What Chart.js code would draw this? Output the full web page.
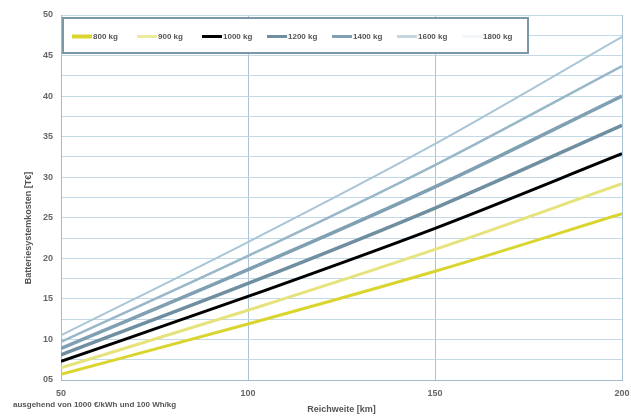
<!DOCTYPE html>
<html lang="de">
<head>
  <meta charset="UTF-8">
  <title>Batteriesystemkosten nach Reichweite</title>
  <script src="https://cdn.jsdelivr.net/npm/chart.js@4.4.0/dist/chart.umd.min.js"></script>
  <style>
    html, body { margin: 0; padding: 0; background: #fff; }
    #wrap { position: relative; width: 631px; height: 419px; }
  </style>
</head>
<body>
  <div id="wrap"><canvas id="chart"></canvas></div>
  <script>
    // Data
    const reach = [50, 100, 150, 200];
    const massLabels = ['800 kg', '900 kg', '1000 kg', '1200 kg', '1400 kg', '1600 kg', '1800 kg'];
    const cost800 = [5.7, 11.9, 18.4, 25.5];
    const cost900 = [6.5, 13.6, 21.1, 29.2];
    const cost1000 = [7.3, 15.3, 23.7, 32.9];
    const cost1200 = [8.1, 16.9, 26.2, 36.4];
    const cost1400 = [8.9, 18.6, 28.8, 40.0];
    const cost1600 = [9.7, 20.3, 31.5, 43.7];
    const cost1800 = [10.5, 22.0, 34.1, 47.3];
    const yTicks = [5, 10, 15, 20, 25, 30, 35, 40, 45, 50];

    // Styles
    const lineColors = ['#d9d52e', '#e6e27c', '#000000', '#6f8fa1', '#7f9fb2', '#98b7c8', '#a9c6d7'];
    const legendColors = ['#d9d52e', '#ecea9c', '#000000', '#6f8fa1', '#7f9fb2', '#c4d6e0', '#f4f7f9'];
    const lineWidths = [3, 3, 3, 3.5, 3.5, 2.5, 2];
    const allSeries = [cost800, cost900, cost1000, cost1200, cost1400, cost1600, cost1800];

    const FONT = '"Liberation Sans", Arial, sans-serif';

    const datasets = allSeries.map((vals, i) => ({
      label: massLabels[i],
      data: vals.map((v, j) => ({ x: reach[j], y: v })),
      borderColor: lineColors[i],
      backgroundColor: lineColors[i],
      borderWidth: lineWidths[i],
      pointRadius: 0,
      cubicInterpolationMode: 'monotone',
      fill: false,
      order: i === 2 ? 0 : 1
    }));

    // Legend drawn inside the plot area, plus free texts
    const extras = {
      id: 'extras',
      afterDraw(chart) {
        const ctx = chart.ctx;
        const area = chart.chartArea;
        ctx.save();
        // legend box
        const bx = area.left + 2, by = 18, bw = 465, bh = 35;
        ctx.fillStyle = '#ffffff';
        ctx.fillRect(bx, by, bw, bh);
        ctx.strokeStyle = '#7b97a8';
        ctx.lineWidth = 2;
        ctx.strokeRect(bx, by, bw, bh);
        ctx.font = 'bold 8px ' + FONT;
        ctx.textBaseline = 'middle';
        const cy = by + bh / 2 + 1;
        chart.data.datasets.forEach((ds, i) => {
          const x0 = bx + 9 + i * 65;
          ctx.strokeStyle = legendColors[i];
          ctx.lineWidth = i === 0 ? 4 : 3;
          ctx.beginPath();
          ctx.moveTo(x0, cy);
          ctx.lineTo(x0 + 20, cy);
          ctx.stroke();
          ctx.fillStyle = '#555';
          ctx.textAlign = 'left';
          ctx.fillText(ds.label, x0 + 21, cy);
        });
        // y axis title
        ctx.translate(29, 228);
        ctx.rotate(-Math.PI / 2);
        ctx.textAlign = 'center';
        ctx.font = 'bold 9px ' + FONT;
        ctx.fillStyle = '#555';
        ctx.fillText('Batteriesystemkosten [T€]', 0, 0);
        ctx.restore();
        // note bottom left
        ctx.save();
        ctx.font = 'bold 8px ' + FONT;
        ctx.fillStyle = '#555';
        ctx.textAlign = 'left';
        ctx.textBaseline = 'middle';
        ctx.fillText('ausgehend von 1000 €/kWh und 100 Wh/kg', 13, 405);
        ctx.restore();
      }
    };

    new Chart(document.getElementById('chart'), {
      type: 'line',
      data: { datasets },
      plugins: [extras],
      options: {
        responsive: true,
        maintainAspectRatio: false,
        animation: false,
        layout: { padding: { top: 15, right: 0, left: 0, bottom: 0 } },
        plugins: {
          legend: { display: false },
          tooltip: { enabled: false }
        },
        scales: {
          x: {
            type: 'linear',
            min: 50,
            max: 200,
            afterFit: s => { s.height = 39; s.paddingRight = 9; },
            afterBuildTicks: s => { s.ticks = reach.map(v => ({ value: v })); },
            grid: { color: '#a9c3d4', lineWidth: 1, drawTicks: false },
            border: { color: '#9dbbcd', width: 1 },
            ticks: {
              padding: 8,
              color: '#666',
              font: { family: FONT, size: 9, weight: 'bold' },
              maxRotation: 0
            },
            title: {
              display: true,
              text: 'Reichweite [km]',
              color: '#555',
              font: { family: FONT, size: 9, weight: 'bold' },
              padding: { top: 0, bottom: 4 }
            }
          },
          y: {
            min: 5,
            max: 50,
            afterFit: s => { s.width = 61; },
            afterBuildTicks: s => {
              const t = [];
              for (let k = 0; k < yTicks.length; k++) {
                t.push({ value: yTicks[k] });
                if (k < yTicks.length - 1) t.push({ value: (yTicks[k] + yTicks[k + 1]) / 2 });
              }
              s.ticks = t;
            },
            grid: { color: '#c3d9e7', lineWidth: 1, drawTicks: false },
            border: { color: '#9dbbcd', width: 1 },
            ticks: {
              padding: 8,
              color: '#666',
              font: { family: FONT, size: 9, weight: 'bold' },
              callback: v => (yTicks.includes(v) ? (v < 10 ? '0' + v : String(v)) : '')
            }
          }
        }
      }
    });
  </script>
</body>
</html>
